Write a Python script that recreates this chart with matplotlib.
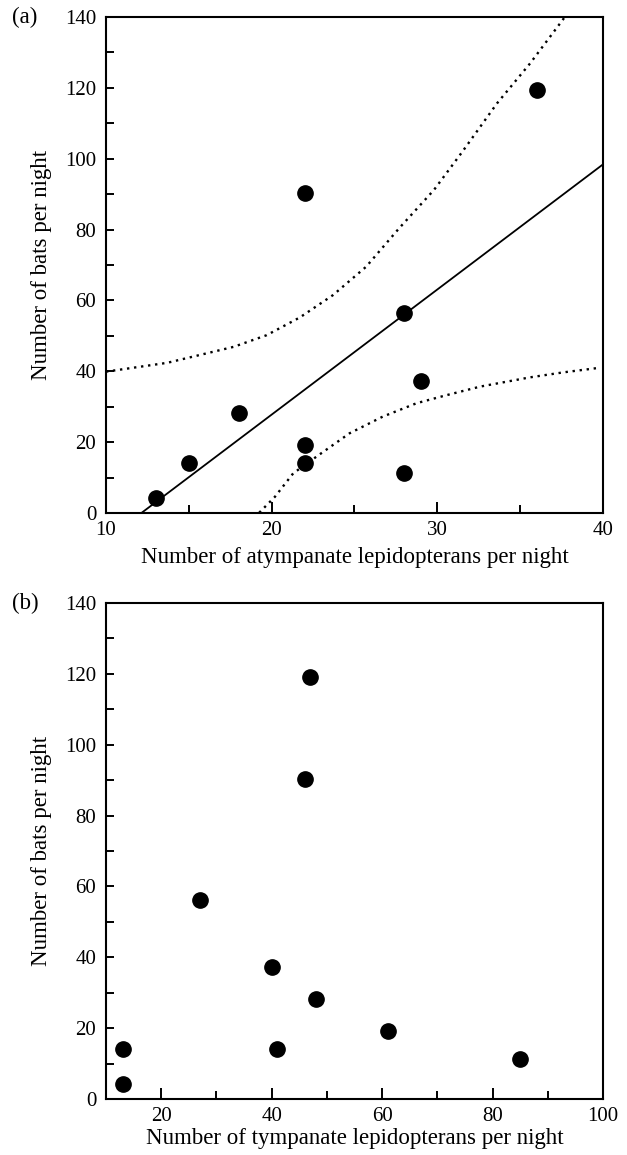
import numpy as np
import matplotlib
matplotlib.use('Agg')
from matplotlib import pyplot as plt
from matplotlib.ticker import MultipleLocator

plt.rcParams['font.family'] = ['Liberation Serif', 'DejaVu Serif']

# bats per night (same nights in both panels)
atymp_x = [13, 15, 18, 22, 22, 22, 28, 28, 29, 36]
atymp_bats = [4.2, 14, 28.3, 90.2, 19.3, 14.1, 56.4, 11.2, 37.3, 119.3]

tymp_x = [13, 13, 27, 40, 41, 46, 47, 48, 61, 85]
tymp_bats = [14, 4.2, 56.2, 37.3, 14.1, 90.2, 119.2, 28.2, 19.3, 11.2]

# dotted confidence bands
upper_x = [10, 13.7, 17.7, 19.7, 21.7, 23.7, 25.7, 27.7, 29.8, 31.5, 33.6, 35.6, 37.7]
upper_y = [39.9, 42.4, 46.9, 50.2, 55.2, 61.5, 69.5, 80.4, 91.2, 101.9, 115.6, 126.9, 140.0]
lower_x = [19.25, 20.2, 21.3, 22.7, 24.7, 26.7, 28.75, 30.5, 32.6, 35.6, 37.6, 39.8]
lower_y = [0.1, 4.6, 11.2, 15.9, 22.5, 27.2, 31.0, 33.2, 35.7, 38.3, 39.7, 41.0]

LABEL_FS = 16.5
TICK_FS = 15


def style_axes(ax, xmin, xmax, xmajor, xminor):
    ax.set_xlim(xmin, xmax)
    ax.set_ylim(0, 140)
    ax.xaxis.set_major_locator(MultipleLocator(xmajor))
    ax.xaxis.set_minor_locator(MultipleLocator(xminor))
    ax.yaxis.set_major_locator(MultipleLocator(20))
    ax.yaxis.set_minor_locator(MultipleLocator(10))
    ax.tick_params(which='both', direction='in', width=1.4, labelsize=TICK_FS,
                   top=False, right=False)
    ax.tick_params(axis='x', which='major', length=8, pad=6)
    ax.tick_params(axis='x', which='minor', length=5.5)
    ax.tick_params(axis='y', which='both', length=5.5, pad=7)
    for sp in ax.spines.values():
        sp.set_linewidth(1.5)
    ax.set_ylabel('Number of bats per night', fontsize=LABEL_FS, labelpad=9)


fig = plt.figure(figsize=(6.27, 11.55), dpi=100)
ax1 = fig.add_axes([0.169, 0.5558, 0.7927, 0.4295])
ax2 = fig.add_axes([0.169, 0.0485, 0.7927, 0.4294])

# panel (a)
slope, intercept = np.polyfit(atymp_x, atymp_bats, 1)
line_x = np.array([10, 40])
ax1.plot(line_x, slope * line_x + intercept, color='black', lw=1.3)
ax1.plot(upper_x, upper_y, color='black', lw=1.7, linestyle=(0, (1, 2.0)))
ax1.plot(lower_x, lower_y, color='black', lw=1.7, linestyle=(0, (1, 2.0)))
ax1.plot(atymp_x, atymp_bats, 'o', color='black', ms=11, zorder=3)
style_axes(ax1, 10, 40, 10, 5)
ax1.set_xlabel('Number of atympanate lepidopterans per night', fontsize=LABEL_FS, labelpad=5)

# panel (b)
ax2.plot(tymp_x, tymp_bats, 'o', color='black', ms=11, zorder=3)
style_axes(ax2, 10, 100, 20, 10)
ax2.set_xticks([20, 40, 60, 80, 100])
ax2.set_xlabel('Number of tympanate lepidopterans per night', fontsize=LABEL_FS, labelpad=1)

fig.text(0.019, 0.9853, '(a)', fontsize=LABEL_FS, va='center', ha='left')
fig.text(0.019, 0.4779, '(b)', fontsize=LABEL_FS, va='center', ha='left')

fig.savefig('out.png', dpi=100)
